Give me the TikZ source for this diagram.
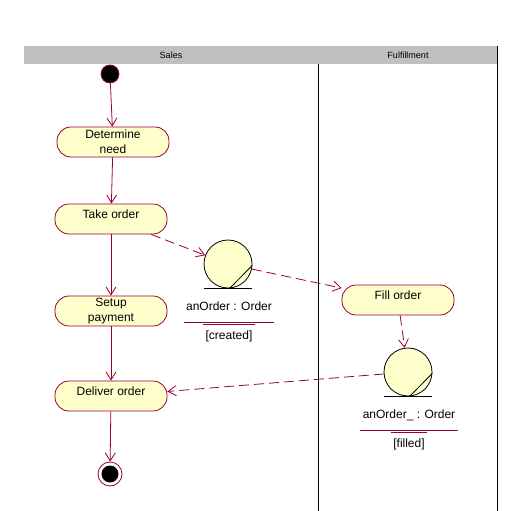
\documentclass[tikz,border=0pt]{standalone}
\usepackage{fontspec}
\setmainfont{Liberation Sans}
\usetikzlibrary{arrows.meta}
\definecolor{maroon}{RGB}{153,0,51}
\definecolor{paleyellow}{RGB}{255,255,204}
\definecolor{lanegray}{RGB}{192,192,192}

\begin{document}
\begin{tikzpicture}[x=1pt,y=-1pt,line width=0.8pt]
\tikzstyle{act}=[draw=maroon,fill=paleyellow,rounded corners=14pt,minimum width=112pt,minimum height=30pt,inner sep=1pt,align=center,font=\fontsize{12}{15}\selectfont]
\tikzstyle{act1}=[act,text height=9pt,text depth=11pt]
\tikzstyle{obj}=[circle,draw=black,fill=paleyellow,minimum size=48pt,inner sep=0pt]
\tikzstyle{lbl}=[inner sep=2pt,text height=9pt,text depth=2pt,font=\fontsize{12}{14}\selectfont]
\tikzstyle{head}=[font=\fontsize{9}{11}\selectfont]
\tikzstyle{flow}=[->,maroon,>={Straight Barb[length=8pt,width=10pt]}]
\tikzstyle{oflow}=[flow,dash pattern=on 10pt off 5pt]

\useasboundingbox (0,0) rectangle (522,511);
\fill[lanegray] (24,46) rectangle (498,64);
\draw[black] (318,64) -- (318,511);
\draw[black] (497,46) -- (497,511);

\node (1) at (171,55) [head]{Sales};
\node (2) at (408,55) [head]{Fulfillment};

\node (3) at (110,74) [circle,fill=black,draw=maroon,minimum size=18pt,inner sep=0pt]{};
\node (4) at (113,142) [act]{Determine\\need};
\node (5) at (111,219) [act1]{Take order};
\node (6) at (111,311) [act]{Setup\\payment};
\node (7) at (111,396) [act1]{Deliver order};
\node (8) at (110,474) [circle,draw=maroon,minimum size=24pt,inner sep=0pt]{};
\node (9) at (110,474) [circle,fill=black,minimum size=17pt,inner sep=0pt]{};

\node (10) at (228,264) [obj]{};
\node (11) at (229,307) [lbl]{anOrder : Order};
\node (12) at (229,336) [lbl,text depth=3pt]{[created]};

\node (13) at (398,300) [act1]{Fill order};

\node (14) at (408,372) [obj]{};
\node (15) at (409,415) [lbl]{anOrder\_ : Order};
\node (16) at (409,444) [lbl,text depth=3pt]{[filled]};

\draw (10.-86) -- (10.-3);
\draw ([xshift=-24pt]10.south) -- ([xshift=24pt]10.south);
\draw[maroon] ([yshift=-7pt]11.south west) -- ([yshift=-7pt]11.south east);
\draw[maroon] ([yshift=3pt]12.north west) -- ([yshift=3pt]12.north east);
\draw (14.-86) -- (14.-3);
\draw ([xshift=-24pt]14.south) -- ([xshift=24pt]14.south);
\draw[maroon] ([yshift=-7pt]15.south west) -- ([yshift=-7pt]15.south east);
\draw[maroon] ([yshift=3pt]16.north west) -- ([yshift=3pt]16.north east);

\draw[flow] (3) -- (4);
\draw[flow] (4) -- (5);
\draw[flow] (5) -- (6);
\draw[flow] (6) -- (7);
\draw[flow] (7) -- (8);
\draw[oflow] (5) -- (10);
\draw[oflow] (10) -- (13);
\draw[oflow] (13) -- (14);
\draw[oflow] (14) -- (7);
\end{tikzpicture}
\end{document}
